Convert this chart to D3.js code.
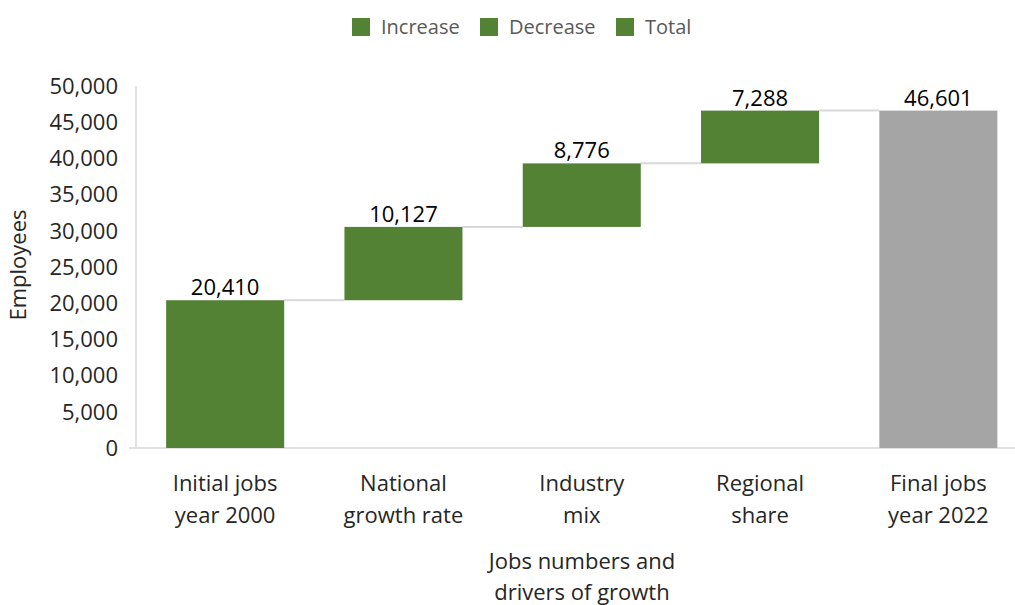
<!DOCTYPE html>
<html>
<head>
<meta charset="utf-8">
<script src="https://cdn.jsdelivr.net/npm/d3@7"></script>
<style>
  body { margin: 0; background: #fff; }
  svg { font-family: "Open Sans", "Noto Sans", sans-serif; }
</style>
</head>
<body>
<svg id="chart" width="1015" height="605"></svg>
<script>
// chart data
var categories = [["Initial jobs", "year 2000"], ["National", "growth rate"], ["Industry", "mix"], ["Regional", "share"], ["Final jobs", "year 2022"]];
var values = [20410, 10127, 8776, 7288, 46601];
var kinds = ["total", "increase", "increase", "increase", "final"];
var yTicks = [0, 5000, 10000, 15000, 20000, 25000, 30000, 35000, 40000, 45000, 50000];
var legendItems = ["Increase", "Decrease", "Total"];

var svg = d3.select("#chart");
var green = "#548235", grey = "#a5a5a5", gridGrey = "#d9d9d9";
var fs = 22;

var x = d3.scaleBand().domain(d3.range(values.length)).range([136, 1027.5]).paddingInner(0.338).paddingOuter(0.169);
var y = d3.scaleLinear().domain([0, 50000]).range([448, 86]);

// running totals for the waterfall
var bars = [];
var run = 0;
values.forEach(function (v, i) {
    var lo, hi;
    if (kinds[i] == "increase") { lo = run; hi = run + v; run = hi; }
    else { lo = 0; hi = v; run = v; }
    bars.push({i: i, lo: lo, hi: hi, v: v, kind: kinds[i]});
});

// axes lines
svg.append("line").attr("x1", 136).attr("x2", 136).attr("y1", 86).attr("y2", 448)
    .attr("stroke", gridGrey).attr("stroke-width", 1.5);
svg.append("line").attr("x1", 129).attr("x2", 1015).attr("y1", 448).attr("y2", 448)
    .attr("stroke", gridGrey).attr("stroke-width", 1.5);

// y tick labels
svg.selectAll(".ytick").data(yTicks).enter().append("text")
    .attr("class", "ytick")
    .attr("x", 118).attr("y", function (d) { return y(d); })
    .attr("dy", "0.35em").attr("text-anchor", "end")
    .attr("font-size", fs).attr("fill", "#262626")
    .text(d3.format(","));

// connectors
svg.selectAll(".conn").data(bars.slice(0, -1)).enter().append("line")
    .attr("class", "conn")
    .attr("x1", function (d) { return x(d.i) + x.bandwidth(); })
    .attr("x2", function (d) { return x(d.i + 1); })
    .attr("y1", function (d) { return y(d.hi); })
    .attr("y2", function (d) { return y(d.hi); })
    .attr("stroke", gridGrey).attr("stroke-width", 2);

// bars
svg.selectAll(".bar").data(bars).enter().append("rect")
    .attr("class", "bar")
    .attr("x", function (d) { return x(d.i); })
    .attr("width", x.bandwidth())
    .attr("y", function (d) { return y(d.hi); })
    .attr("height", function (d) { return y(d.lo) - y(d.hi); })
    .attr("fill", function (d) { return d.kind == "final" ? grey : green; });

// data labels
svg.selectAll(".lbl").data(bars).enter().append("text")
    .attr("class", "lbl")
    .attr("x", function (d) { return x(d.i) + x.bandwidth() / 2; })
    .attr("y", function (d) { return y(d.hi) - 5; })
    .attr("text-anchor", "middle").attr("font-size", fs).attr("fill", "#000")
    .text(function (d) { return d3.format(",")(d.v); });

// category labels
var cat = svg.selectAll(".cat").data(categories).enter().append("text")
    .attr("class", "cat")
    .attr("text-anchor", "middle").attr("font-size", fs).attr("fill", "#262626");
cat.selectAll("tspan").data(function (d, i) { return d.map(function (t) { return {t: t, i: i}; }); })
    .enter().append("tspan")
    .attr("x", function (d) { return x(d.i) + x.bandwidth() / 2; })
    .attr("y", function (d, j) { return 491 + j * 32; })
    .text(function (d) { return d.t; });

// axis titles
svg.append("text").attr("transform", "translate(26,265) rotate(-90)")
    .attr("text-anchor", "middle").attr("font-size", fs).attr("fill", "#262626")
    .text("Employees");
var xt = svg.append("text").attr("text-anchor", "middle").attr("font-size", fs).attr("fill", "#262626");
xt.append("tspan").attr("x", 582).attr("y", 569).text("Jobs numbers and");
xt.append("tspan").attr("x", 582).attr("y", 600).text("drivers of growth");

// legend
var lx = [352, 480, 616];
var leg = svg.selectAll(".leg").data(legendItems).enter().append("g")
    .attr("class", "leg")
    .attr("transform", function (d, i) { return "translate(" + lx[i] + ",18)"; });
leg.append("rect").attr("width", 18).attr("height", 18).attr("fill", green);
leg.append("text").attr("x", 29).attr("y", 9).attr("dy", "0.35em")
    .attr("font-size", 20).attr("fill", "#595959")
    .text(function (d) { return d; });
</script>
</body>
</html>
